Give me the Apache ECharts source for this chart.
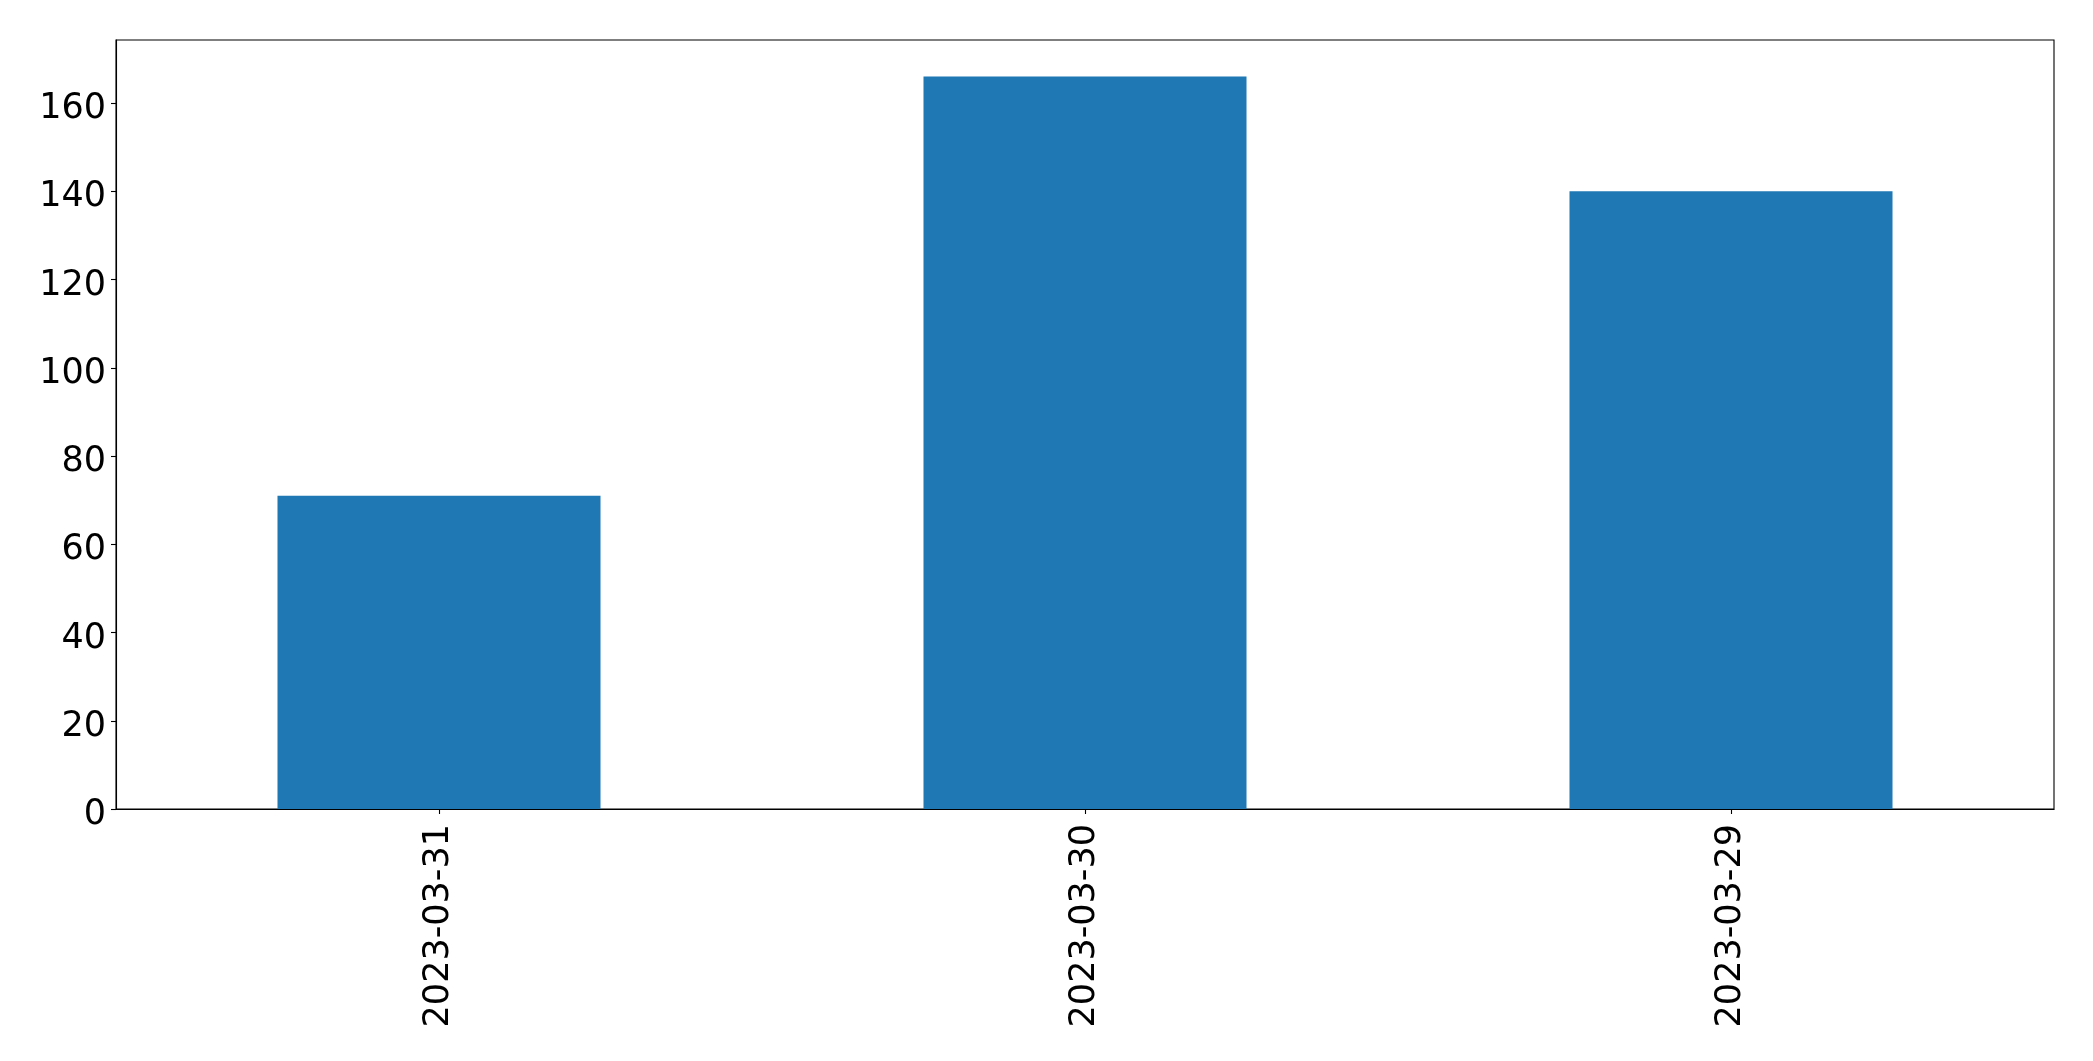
<!DOCTYPE html>
<html>
<head>
<meta charset="utf-8">
<script src="https://cdn.jsdelivr.net/npm/echarts@6/dist/echarts.min.js"></script>
<style>html,body{margin:0;padding:0;background:#fff;}#c{width:2093px;height:1061px;}</style>
</head>
<body>
<div id="c"></div>
<script>
const categories = ['2023-03-31', '2023-03-30', '2023-03-29'];
const values = [71, 166, 140];
const yTicks = [0, 20, 40, 60, 80, 100, 120, 140, 160];

const chart = echarts.init(document.getElementById('c'), null, {renderer: 'canvas'});
const font = 'DejaVu Sans';
chart.setOption({
  animation: false,
  backgroundColor: '#fff',
  grid: {left: 116, right: 39, top: 40, bottom: 252, show: true, borderColor: '#000', borderWidth: 1.1, backgroundColor: 'transparent'},
  xAxis: {
    type: 'category',
    data: categories,
    boundaryGap: true,
    axisLine: {show: true, lineStyle: {color: '#000', width: 1.1}},
    axisTick: {show: true, alignWithLabel: true, length: 5, lineStyle: {color: '#000', width: 1.1}},
    axisLabel: {rotate: 90, fontFamily: font, fontSize: 35, color: '#000', margin: 15}
  },
  yAxis: {
    type: 'value',
    min: 0,
    max: 174.3,
    interval: 20,
    splitLine: {show: false},
    axisLine: {show: true, lineStyle: {color: '#000', width: 1.1}},
    axisTick: {show: true, length: 5, lineStyle: {color: '#000', width: 1.1}},
    axisLabel: {fontFamily: font, fontSize: 35, color: '#000', margin: 10, showMaxLabel: false,
      verticalAlign: 'top', lineHeight: 12,
      formatter: v => yTicks.includes(v) ? String(v) : ''}
  },
  series: [{
    type: 'bar',
    data: values,
    barWidth: '50%',
    itemStyle: {color: '#1f77b4'}
  }]
});
</script>
</body>
</html>
